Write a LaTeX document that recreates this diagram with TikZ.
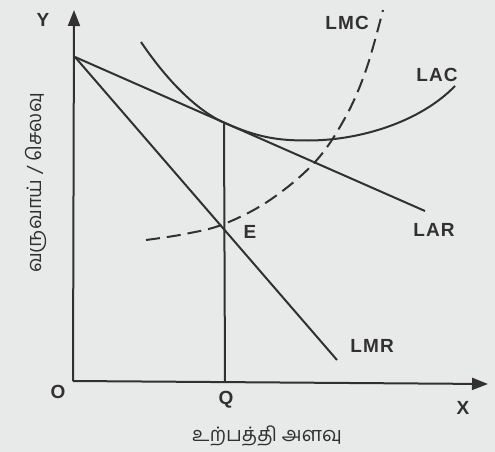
\documentclass[tikz,border=0pt]{standalone}
\usepackage{fontspec}
\setmainfont{Liberation Sans}
\newfontfamily\lblfont[LetterSpace=6]{Liberation Sans}
\newfontfamily\tamilfont[Script=Tamil]{Hind Madurai}
\usetikzlibrary{arrows.meta}
\definecolor{bg}{RGB}{232,234,233}
\definecolor{ink}{RGB}{50,48,48}
\tikzset{
  curve/.style={draw=ink, line width=2pt},
  dashcurve/.style={draw=ink, line width=2pt, dash pattern=on 14pt off 7pt},
  axis/.style={draw=ink, line width=2pt, -{Triangle[length=16pt,width=12pt]}},
  lbl/.style={text=ink, font=\lblfont\fontsize{19}{21}\selectfont\bfseries, inner sep=0pt},
  tlbl/.style={text=ink, font=\tamilfont\fontsize{20}{22}\selectfont, inner sep=0pt}
}
\begin{document}
\begin{tikzpicture}[x=1pt,y=-1pt]
\fill[bg] (0,0) rectangle (495,452);
\useasboundingbox (0,0) rectangle (495,452);
% key points
\coordinate (O) at (73,381);
\coordinate (Ytop) at (74,10);
\coordinate (Xend) at (488,384);
\coordinate (A) at (75,57);
\coordinate (T) at (224,122.6);
\coordinate (E) at (224,224);
\coordinate (Qf) at (225,382);
\coordinate (ARend) at (425,211);
\coordinate (MRend) at (337,360);
% axes
\draw[axis] (O) -- (Ytop);
\draw[axis] (O) -- (Xend);
% lines
\draw[curve] (A) -- (ARend);
\draw[curve] (A) -- (MRend);
\draw[curve] (T) -- (Qf);
% LAC
\draw[curve] (141,42) .. controls (170,85) and (200,112) .. (T)
  .. controls (260,138.5) and (280,140.5) .. (308,140.5)
  .. controls (360,140.5) and (420,122) .. (455,86);
% LMC
\draw[dashcurve] plot[smooth, tension=0.6] coordinates {(146,240) (185,234) (E) (270,200) (315,162) (345,118) (366,70) (383,10)};
% labels
\node[lbl] (lY) at (43,20) {Y};
\node[lbl] (lO) at (58,392) {O};
\node[lbl] (lQ) at (226,400) {Q};
\node[lbl] (lX) at (463,408) {X};
\node[lbl] (lE) at (250,232) {E};
\node[lbl] (lLMC) at (347,23) {LMC};
\node[lbl] (lLAC) at (437,75) {LAC};
\node[lbl] (lLAR) at (434,230) {LAR};
\node[lbl] (lLMR) at (372,346) {LMR};
\node[tlbl, rotate=90] (ylab) at (36,183) {வருவாய் / செலவு};
\node[tlbl] (xlab) at (267,436) {உற்பத்தி அளவு};
\end{tikzpicture}
\end{document}
